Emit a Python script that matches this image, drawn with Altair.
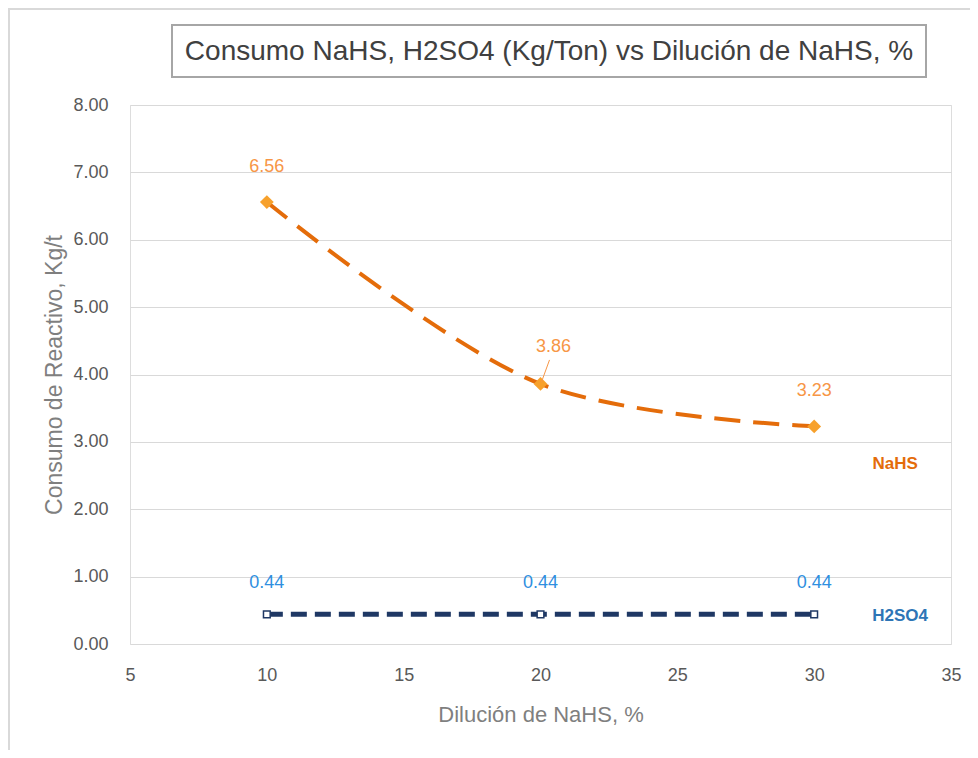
import altair as alt
import pandas as pd

# ---- data ----
dilucion = [10, 20, 30]
nahs = [6.56, 3.86, 3.23]
h2so4 = [0.44, 0.44, 0.44]
x_ticks = [5, 10, 15, 20, 25, 30, 35]
y_ticks = [0, 1, 2, 3, 4, 5, 6, 7, 8]
title_text = "Consumo NaHS, H2SO4 (Kg/Ton) vs Dilución de NaHS, %"
x_title = "Dilución de NaHS, %"
y_title = "Consumo de Reactivo, Kg/t"

W, H = 821, 539
FONT = "Liberation Sans"

df_n = pd.DataFrame({"x": dilucion, "y": nahs, "lab": [f"{v:.2f}" for v in nahs], "serie": "NaHS"})
df_h = pd.DataFrame({"x": dilucion, "y": h2so4, "lab": [f"{v:.2f}" for v in h2so4], "serie": "H2SO4"})
one = pd.DataFrame({"a": [0]})

xscale = alt.Scale(domain=[5, 35], nice=False, zero=False)
yscale = alt.Scale(domain=[0, 8], nice=False)

X = alt.X("x:Q", scale=xscale, axis=alt.Axis(
    values=x_ticks, title=x_title, grid=False, domain=False, ticks=False, tickSize=0,
    labelFlush=False, labelOverlap=False,
    labelPadding=22, titlePadding=20, labelFontSize=18, titleFontSize=22,
    labelColor="#595959", titleColor="#7f7f7f", labelFont=FONT, titleFont=FONT,
    titleFontWeight="normal"))
Y = alt.Y("y:Q", scale=yscale, axis=alt.Axis(
    values=y_ticks, format=".2f", title=y_title, grid=True, gridColor="#d9d9d9",
    domain=False, ticks=False, tickSize=0, labelPadding=22, titlePadding=6,
    labelFlush=False, labelOverlap=False,
    labelFontSize=18, titleFontSize=23, labelColor="#595959", titleColor="#7f7f7f",
    labelFont=FONT, titleFont=FONT, titleFontWeight="normal"))

outer = alt.Chart(one).mark_rect(fillOpacity=0, stroke="#d9d9d9", strokeWidth=2).encode(
    x=alt.value(-121), x2=alt.value(W + 60), y=alt.value(-96), y2=alt.value(H + 300))

tbox = alt.Chart(one).mark_rect(fill="white", stroke="#a6a6a6", strokeWidth=2).encode(
    x=alt.value(42), x2=alt.value(796), y=alt.value(-80), y2=alt.value(-28))

ttext = alt.Chart(pd.DataFrame({"t": [title_text]})).mark_text(
    font=FONT, fontSize=28, color="#404040", align="center", baseline="middle").encode(
    text="t:N", x=alt.value(419), y=alt.value(-53))

line_n = alt.Chart(df_n).mark_line(
    color="#e46c0a", strokeWidth=4, strokeDash=[26, 13], interpolate="catmull-rom").encode(x=X, y=Y)
pts_n = alt.Chart(df_n).mark_point(
    shape="diamond", filled=True, color="#f7a12c", size=190, opacity=1).encode(x=X, y=Y)

line_h = alt.Chart(df_h).mark_line(
    color="#1f3864", strokeWidth=5, strokeDash=[16, 8]).encode(x=X, y=Y)
pts_h = alt.Chart(df_h).mark_point(
    shape="square", filled=True, fill="white", stroke="#1f3864", strokeWidth=1.5,
    size=45, opacity=1).encode(x=X, y=Y)

lab_n_a = alt.Chart(df_n).transform_filter("datum.x != 20").mark_text(
    font=FONT, fontSize=18, color="#f79646", dy=-35).encode(x=X, y=Y, text="lab:N")
lab_n_b = alt.Chart(df_n).transform_filter("datum.x == 20").mark_text(
    font=FONT, fontSize=18, color="#f79646", dx=13, dy=-37).encode(x=X, y=Y, text="lab:N")
leader = alt.Chart(df_n).transform_filter("datum.x == 20").mark_rule(
    color="#f79646", strokeWidth=1, xOffset=9, yOffset=-24, x2Offset=1, y2Offset=-2).encode(
    x=X, y=Y, x2="x:Q", y2="y:Q")

lab_h = alt.Chart(df_h).mark_text(
    font=FONT, fontSize=18, color="#2f8fdf", dy=-31).encode(x=X, y=Y, text="lab:N")

name_n = alt.Chart(df_n).transform_filter("datum.x == 30").mark_text(
    font=FONT, fontSize=17, fontWeight="bold", color="#e46c0a", dx=81, dy=38).encode(
    x=X, y=Y, text="serie:N")
name_h = alt.Chart(df_h).transform_filter("datum.x == 30").mark_text(
    font=FONT, fontSize=17, fontWeight="bold", color="#2e75b6", dx=86, dy=2).encode(
    x=X, y=Y, text="serie:N")

chart = alt.layer(
    outer, tbox, ttext, line_n, line_h, pts_n, pts_h, leader,
    lab_n_a, lab_n_b, lab_h, name_n, name_h
).properties(
    width=W, height=H,
    autosize=alt.AutoSizeParams(type="none"),
    padding={"left": 122, "top": 97, "right": 19, "bottom": 106},
).configure_view(
    stroke="#a6a6a6", strokeWidth=1.5
).configure(background="white")

chart.save("out.html", embed_options={"renderer": "svg", "actions": False})
